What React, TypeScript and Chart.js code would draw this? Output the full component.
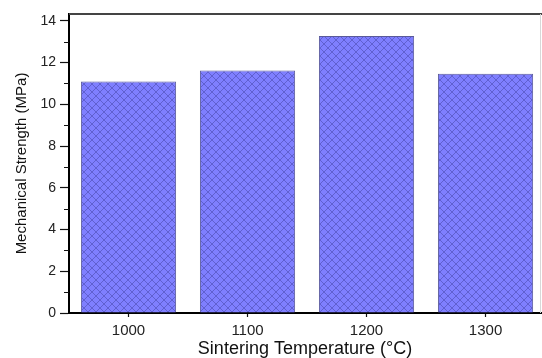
import React, { useEffect, useRef } from "react";
import { Chart, registerables } from "chart.js";

Chart.register(...registerables);

const temperatures = [1000, 1100, 1200, 1300];
const strengthValues = [11.1, 11.62, 13.28, 11.47];
const yMajorTicks = [0, 2, 4, 6, 8, 10, 12, 14];
const yMinorTicks = [1, 3, 5, 7, 9, 11, 13];

function makeHatch(): CanvasPattern | string {
  const c = document.createElement("canvas");
  c.width = 8;
  c.height = 8;
  const g = c.getContext("2d");
  if (!g) return "#7b7bff";
  g.fillStyle = "#7f7fff";
  g.fillRect(0, 0, 8, 8);
  g.strokeStyle = "rgba(45,45,130,0.42)";
  g.lineWidth = 0.9;
  g.beginPath();
  g.moveTo(-1, -1);
  g.lineTo(9, 9);
  g.moveTo(9, -1);
  g.lineTo(-1, 9);
  g.stroke();
  const p = g.createPattern(c, "repeat");
  return p || "#7b7bff";
}

const framePlugin = {
  id: "frame",
  afterDraw(chart: any) {
    const { ctx, chartArea } = chart;
    const y = chart.scales.y;
    ctx.save();
    ctx.strokeStyle = "#444";
    ctx.lineWidth = 2;
    ctx.beginPath();
    ctx.moveTo(chartArea.left, chartArea.top);
    ctx.lineTo(chart.width, chartArea.top);
    ctx.stroke();
    ctx.strokeStyle = "#d8d8d8";
    ctx.lineWidth = 1;
    ctx.beginPath();
    ctx.moveTo(chartArea.right - 0.5, chartArea.top);
    ctx.lineTo(chartArea.right - 0.5, chartArea.bottom);
    ctx.stroke();
    ctx.strokeStyle = "#111";
    ctx.lineWidth = 1.2;
    ctx.beginPath();
    for (const v of yMinorTicks) {
      const py = Math.round(y.getPixelForValue(v)) + 0.5;
      ctx.moveTo(chartArea.left - 5, py);
      ctx.lineTo(chartArea.left, py);
    }
    ctx.stroke();
    ctx.restore();
  },
};

export default function App() {
  const ref = useRef<HTMLCanvasElement>(null);
  useEffect(() => {
    if (!ref.current) return;
    const hatch = makeHatch();
    const chart = new Chart(ref.current, {
      type: "bar",
      data: {
        datasets: [
          {
            data: temperatures.map((t, i) => ({ x: t, y: strengthValues[i] })),
            backgroundColor: hatch as any,
            borderColor: "#5a5a9a",
            borderWidth: 1,
            barPercentage: 0.8,
            categoryPercentage: 1,
          },
        ],
      },
      options: {
        responsive: false,
        animation: false,
        layout: { padding: { top: 14, right: 1, left: 0, bottom: 0 } },
        plugins: { legend: { display: false }, tooltip: { enabled: false } },
        scales: {
          x: {
            type: "linear",
            min: 950,
            max: 1346.6,
            offset: false,
            grid: {
              offset: false,
              drawOnChartArea: false,
              drawTicks: true,
              tickLength: 4,
              tickColor: "#111",
              tickWidth: 1.2,
            },
            border: { display: true, color: "#000", width: 2 },
            afterBuildTicks(scale: any) {
              scale.ticks = temperatures.map((v) => ({ value: v }));
            },
            ticks: {
              autoSkip: false,
              color: "#222",
              padding: 5,
              maxRotation: 0,
              callback: (v: any) => String(v),
              font: { family: "'Liberation Sans', Arial, sans-serif", size: 15 },
            },
            title: {
              display: true,
              text: "Sintering Temperature (°C)",
              color: "#111",
              padding: { top: 0, bottom: 0 },
              font: { family: "'Liberation Sans', Arial, sans-serif", size: 18, lineHeight: 1 },
            },
            afterFit(scale: any) {
              scale.height = 45;
            },
          },
          y: {
            min: 0,
            max: 14.33,
            grid: {
              drawOnChartArea: false,
              drawTicks: true,
              tickLength: 9,
              tickColor: "#111",
              tickWidth: 1.2,
            },
            border: { display: true, color: "#000", width: 2 },
            afterBuildTicks(scale: any) {
              scale.ticks = yMajorTicks.map((v) => ({ value: v }));
            },
            ticks: {
              autoSkip: false,
              color: "#222",
              padding: 4,
              font: { family: "'Liberation Sans', Arial, sans-serif", size: 14 },
            },
            title: {
              display: true,
              text: "Mechanical Strength (MPa)",
              color: "#111",
              padding: { top: 14, bottom: 0 },
              font: { family: "'Liberation Sans', Arial, sans-serif", size: 15, lineHeight: 1 },
            },
            afterFit(scale: any) {
              scale.width = 69;
            },
          },
        },
      },
      plugins: [framePlugin],
    });
    return () => chart.destroy();
  }, []);
  return (
    <div style={{ position: "absolute", left: 0, top: 0, width: 542, height: 358, background: "#fff" }}>
      <canvas ref={ref} width={542} height={358} style={{ display: "block" }} />
    </div>
  );
}
